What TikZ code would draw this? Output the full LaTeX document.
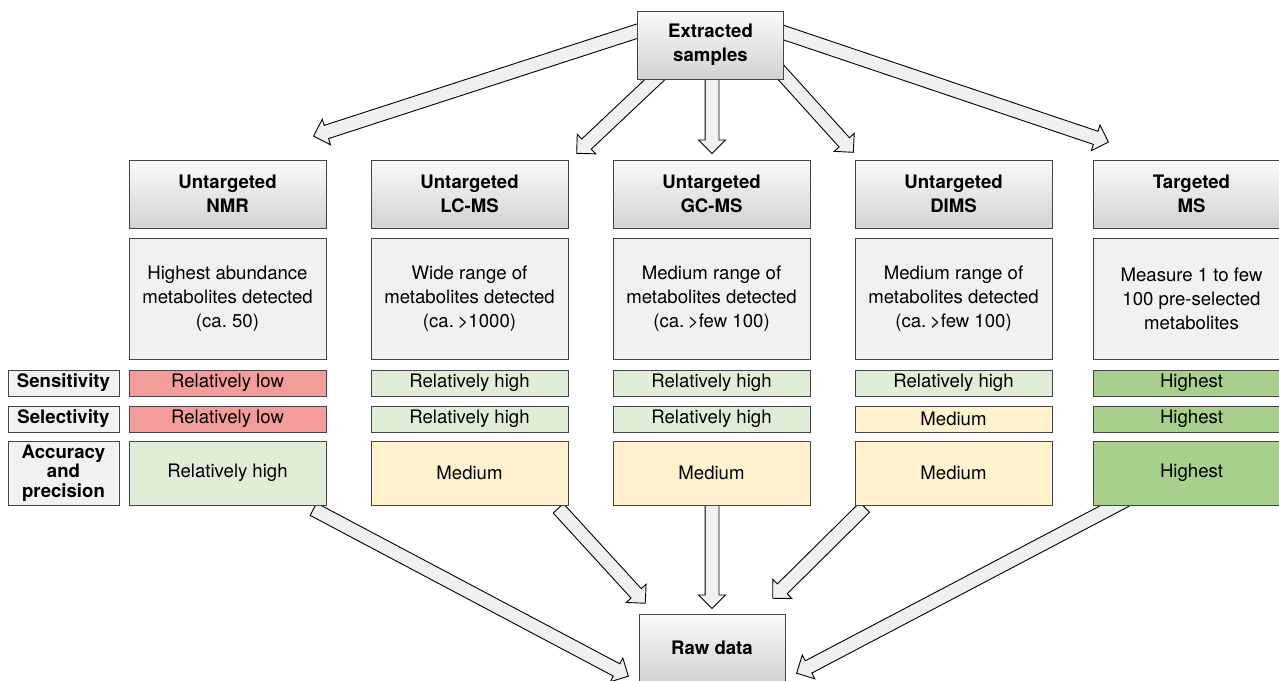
\documentclass[tikz,border=0pt]{standalone}
\usepackage{fontspec}
\setmainfont{TeX Gyre Heros}
\frenchspacing
\usetikzlibrary{shapes.arrows,calc}
\pgfdeclarelayer{background}
\pgfsetlayers{background,main}
\definecolor{boxline}{HTML}{454545}
\definecolor{hdrtop}{HTML}{FAFAFA}
\definecolor{hdrbot}{HTML}{D2D2D2}
\definecolor{descfill}{HTML}{F1F1F1}
\definecolor{redfill}{HTML}{F39C99}
\definecolor{lgreen}{HTML}{E0EED8}
\definecolor{sgreen}{HTML}{A8D08C}
\definecolor{yellowfill}{HTML}{FFF2CC}
\definecolor{arrfill}{HTML}{F0F0F0}
\newcommand\barr[2]{\path let \p1=(#1), \p2=(#2), \n1={atan2(\y2-\y1,\x2-\x1)}, \n2={veclen(\x2-\x1,\y2-\y1)} in node[barrow, minimum height=\n2, rotate=\n1, anchor=tail] at (\p1) {};}
\newcommand\gtsign{\kern-1.5pt>}
\begin{document}
\begin{tikzpicture}[x=1pt,y=-1pt,
  font=\fontsize{18.6}{23}\selectfont,
  cell/.style={draw=boxline, line width=1pt, inner sep=0pt, align=center, minimum width=197pt},
  hdr/.style={cell, top color=hdrtop, bottom color=hdrbot, minimum height=68pt, font=\fontsize{18.6}{24}\selectfont\bfseries},
  topbox/.style={hdr, minimum width=146pt},
  desc/.style={cell, fill=descfill, minimum height=121pt, font=\fontsize{18.6}{24}\selectfont},
  srow/.style={cell, minimum height=26pt},
  arow/.style={cell, minimum height=64pt},
  lab/.style={draw=boxline, line width=1pt, fill=descfill, inner sep=0pt, align=center, minimum width=111pt, font=\fontsize{18.6}{19.5}\selectfont\bfseries},
  barrow/.style={single arrow, draw=black, fill=arrfill, line width=0.9pt, inner xsep=0pt, inner ysep=6.5pt, minimum width=0pt, single arrow head extend=6.5pt, single arrow tip angle=90},
]
\useasboundingbox (0,0) rectangle (1279,680);
\clip (0,0) rectangle (1279,680);

% top and bottom boxes
\node[topbox] (ext) at (710.5,45) {Extracted\\samples};
\node[topbox] (raw) at (712,648) {Raw data};

% method headers
\node[hdr] (h1) at (227.5,194) {Untargeted\\NMR};
\node[hdr] (h2) at (469.5,194) {Untargeted\\LC-MS};
\node[hdr] (h3) at (711.5,194) {Untargeted\\GC-MS};
\node[hdr] (h4) at (953.5,194) {Untargeted\\DIMS};
\node[hdr] (h5) at (1191.5,194) {Targeted\\MS};

% descriptions
\node[desc] (d1) at (227.5,298.5) {Highest abundance\\metabolites detected\\(ca. 50)};
\node[desc] (d2) at (469.5,298.5) {Wide range of\\metabolites detected\\(ca. \gtsign1000)};
\node[desc] (d3) at (711.5,298.5) {Medium range of\\metabolites detected\\(ca. \gtsign few 100)};
\node[desc] (d4) at (953.5,298.5) {Medium range of\\metabolites detected\\(ca. \gtsign few 100)};
\node[desc] (d5) at (1191.5,298.5) {Measure 1 to few\\100 pre-selected\\metabolites};

% row labels
\node[lab, minimum height=26pt] (lsens) at (63.5,383) {Sensitivity};
\node[lab, minimum height=26pt] (lsel) at (63.5,419) {Selectivity};
\node[lab, minimum height=64pt] (lacc) at (63.5,473) {Accuracy\\and\\precision};

% sensitivity
\node[srow, fill=redfill] (s1) at (227.5,383) {Relatively low};
\node[srow, fill=lgreen] (s2) at (469.5,383) {Relatively high};
\node[srow, fill=lgreen] (s3) at (711.5,383) {Relatively high};
\node[srow, fill=lgreen] (s4) at (953.5,383) {Relatively high};
\node[srow, fill=sgreen] (s5) at (1191.5,383) {Highest};

% selectivity
\node[srow, fill=redfill] (e1) at (227.5,419) {Relatively low};
\node[srow, fill=lgreen] (e2) at (469.5,419) {Relatively high};
\node[srow, fill=lgreen] (e3) at (711.5,419) {Relatively high};
\node[srow, fill=yellowfill] (e4) at (953.5,419) {Medium};
\node[srow, fill=sgreen] (e5) at (1191.5,419) {Highest};

% accuracy and precision
\node[arow, fill=lgreen] (a1) at (227.5,473) {Relatively high};
\node[arow, fill=yellowfill] (a2) at (469.5,473) {Medium};
\node[arow, fill=yellowfill] (a3) at (711.5,473) {Medium};
\node[arow, fill=yellowfill] (a4) at (953.5,473) {Medium};
\node[arow, fill=sgreen] (a5) at (1191.5,473) {Highest};

% arrow end points
\coordinate (t1s) at (650,27);   \coordinate (t1e) at (314,136);
\coordinate (t2s) at (664,71);   \coordinate (t2e) at (577,153);
\coordinate (t3s) at (712,70);   \coordinate (t3e) at (712,153);
\coordinate (t4s) at (768,58);   \coordinate (t4e) at (853,152);
\coordinate (t5s) at (770,28);   \coordinate (t5e) at (1108,142);
\coordinate (b1s) at (313,509);  \coordinate (b1e) at (628,676);
\coordinate (b2s) at (558,508);  \coordinate (b2e) at (645,603);
\coordinate (b3s) at (712,505);  \coordinate (b3e) at (712,608);
\coordinate (b4s) at (865,507);  \coordinate (b4e) at (773,598);
\coordinate (b5s) at (1126,500); \coordinate (b5e) at (797,673);

\begin{pgfonlayer}{background}
\barr{t1s}{t1e}
\barr{t2s}{t2e}
\barr{t3s}{t3e}
\barr{t4s}{t4e}
\barr{t5s}{t5e}
\barr{b1s}{b1e}
\barr{b2s}{b2e}
\barr{b3s}{b3e}
\barr{b4s}{b4e}
\barr{b5s}{b5e}
\end{pgfonlayer}
\end{tikzpicture}
\end{document}
